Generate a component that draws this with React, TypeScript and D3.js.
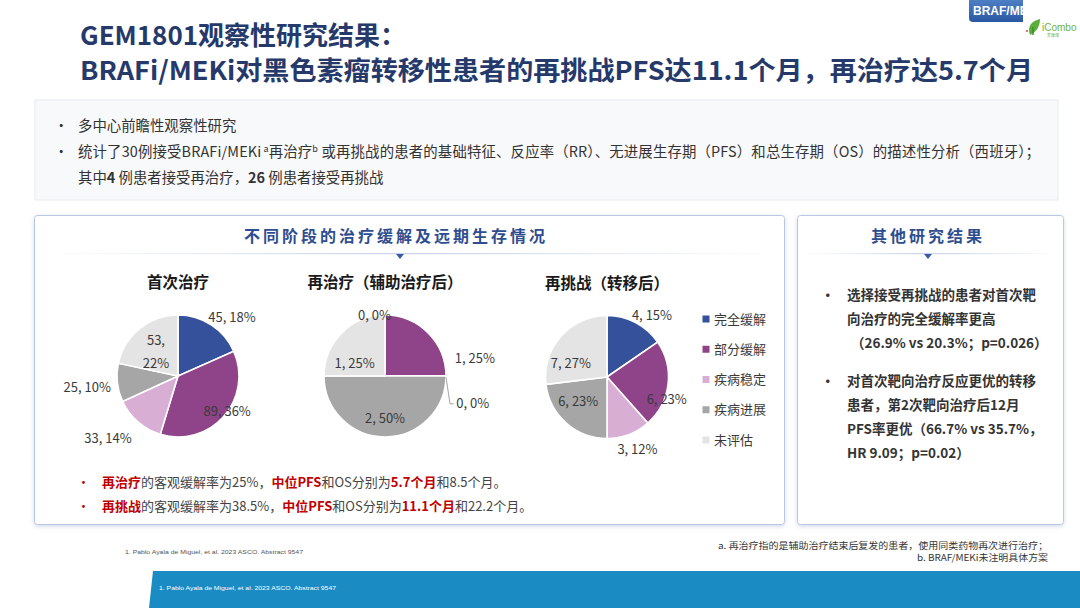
import React from 'react';
import * as d3 from 'd3';

// ---------- data ----------
const categories = ['完全缓解', '部分缓解', '疾病稳定', '疾病进展', '未评估'];
const sliceColors = ['#35519b', '#8f4389', '#d9aed4', '#a6a6a6', '#e4e4e4'];
const pieTitles = ['首次治疗', '再治疗（辅助治疗后）', '再挑战（转移后）'];
const firstCounts = [45, 89, 33, 25, 53];
const firstPcts = [18, 36, 14, 10, 22];
const retreatCounts = [0, 1, 0, 2, 1];
const retreatPcts = [0, 25, 0, 50, 25];
const rechalCounts = [4, 6, 3, 6, 7];
const rechalPcts = [15, 23, 12, 23, 27];

// ---------- label layout (radial factor, angle nudge in degrees) ----------
const firstLabelK = [1.31, 0.99, 1.54, 1.5, 0.53];
const firstLabelDa = [9.4, -6, 7, -1, -4];
const retreatLabelK = [1.0, 1.5, 1.51, 0.69, 0.54];
const retreatLabelDa = [-10, 34, 17.6, 0, -22];
const rechalLabelK = [1.245, 1.04, 1.28, 0.61, 0.63];
const rechalLabelDa = [8.3, 14, -2, 8.5, -20.5];

const F = "'Noto Sans CJK SC','Noto Sans',sans-serif";
const NAVY = '#26396b';
const RED = '#c00000';
const TXT = '#3a3a3a';

type PieProps = {
  cx: number; cy: number; r: number; title: string;
  counts: number[]; pcts: number[]; ks: number[]; das: number[];
  leaderIdx?: number; wrapIdx?: number;
};

function Pie({ cx, cy, r, title, counts, pcts, ks, das, leaderIdx, wrapIdx }: PieProps) {
  const pie = d3.pie<number>().sort(null).value((d) => d);
  const arcs = pie(counts);
  const arc = d3.arc<d3.PieArcDatum<number>>().innerRadius(0).outerRadius(r);
  return (
    <g>
      <text x={cx} y={cy - 88} textAnchor="middle" fontFamily={F} fontWeight={700} fontSize={15.5} fill="#1a1a1a">
        {title}
      </text>
      <g transform={`translate(${cx},${cy})`}>
        {arcs.map((a, i) => (
          <path key={i} d={arc(a) || ''} fill={sliceColors[i]} stroke="#fff" strokeWidth={1.6} />
        ))}
      </g>
      {arcs.map((a, i) => {
        const ang = (a.startAngle + a.endAngle) / 2 + (das[i] * Math.PI) / 180;
        const dist = ks[i] * r;
        const x = cx + dist * Math.sin(ang);
        const y = cy - dist * Math.cos(ang);
        const label = `${counts[i]}, ${pcts[i]}%`;
        if (i === wrapIdx) {
          return (
            <text key={i} x={x} y={y} textAnchor="middle" fontFamily={F} fontSize={13} fill={TXT}>
              <tspan x={x} dy={-7}>{`${counts[i]},`}</tspan>
              <tspan x={x} dy={23}>{`${pcts[i]}%`}</tspan>
            </text>
          );
        }
        if (i === leaderIdx) {
          const ex = cx + r * Math.sin(a.startAngle);
          const ey = cy - r * Math.cos(a.startAngle);
          const tw = 36;
          return (
            <g key={i}>
              <path d={`M${ex},${ey + 1}L${ex + 4},${y}L${x - tw / 2 - 1},${y}`} fill="none" stroke="#a6a6a6" strokeWidth={1} />
              <text x={x} y={y} dy="0.35em" textAnchor="middle" fontFamily={F} fontSize={13} fill={TXT}>{label}</text>
            </g>
          );
        }
        return (
          <text key={i} x={x} y={y} dy="0.35em" textAnchor="middle" fontFamily={F} fontSize={13} fill={TXT}>{label}</text>
        );
      })}
    </g>
  );
}

export default function App() {
  const legendY = d3.scalePoint<string>().domain(categories).range([319, 440]);
  return (
    <svg width={1080} height={608} viewBox="0 0 1080 608"
      style={{ position: 'absolute', left: 0, top: 0, background: '#fff' }}>
      <defs>
        <linearGradient id="tabG" x1="0" y1="0" x2="0" y2="1">
          <stop offset="0" stopColor="#4d7fc4" />
          <stop offset="1" stopColor="#2b57a2" />
        </linearGradient>
        <linearGradient id="sepG" x1="0" y1="0" x2="1" y2="0">
          <stop offset="0" stopColor="#c6d3ec" stopOpacity="0" />
          <stop offset="0.5" stopColor="#c6d3ec" />
          <stop offset="1" stopColor="#c6d3ec" stopOpacity="0" />
        </linearGradient>
        <linearGradient id="topEdge" x1="0" y1="0" x2="1" y2="0">
          <stop offset="0" stopColor="#8e9fc4" />
          <stop offset="0.25" stopColor="#dfe5f0" />
          <stop offset="1" stopColor="#eef1f6" />
        </linearGradient>
        <linearGradient id="leftEdge" x1="0" y1="0" x2="0" y2="1">
          <stop offset="0" stopColor="#8e9fc4" />
          <stop offset="1" stopColor="#e2e7f0" />
        </linearGradient>
        <filter id="sh" x="-5%" y="-5%" width="110%" height="115%">
          <feDropShadow dx="0" dy="1.5" stdDeviation="2" floodColor="#7f93bd" floodOpacity="0.35" />
        </filter>
      </defs>

      {/* top-right tab and logo */}
      <path d="M969,0H1040V18Q1040,22 1036,22H973Q969,22 969,18Z" fill="url(#tabG)" />
      <text x={973} y={15} fontFamily="'Liberation Sans',Arial,sans-serif" fontWeight={700} fontSize={12} fill="#fff">BRAF/MEK</text>
      <rect x={1023} y={0} width={57} height={40} fill="#fff" />
      <path d="M1030,35 C1027,27 1031,21 1040,19 C1040,27 1036,32 1030,35Z" fill="#5aae3c" />
      <path d="M1033,35 L1033,27" stroke="#3d8c2a" strokeWidth={1.5} />
      <circle cx={1027} cy={31} r={0.9} fill="#e03030" />
      <text x={1042} y={31} fontFamily="'Liberation Sans',Arial,sans-serif" fontSize={10} fill="#6bb344">iCombo</text>
      <text x={1047} y={37} fontFamily={F} fontSize={4} fill="#6bb344">爱康博</text>

      {/* title */}
      <text x={80} y={45} fontFamily={F} fontWeight={700} fontSize={26} fill={NAVY} textLength={326} lengthAdjust="spacingAndGlyphs">GEM1801观察性研究结果：</text>
      <text x={80} y={80} fontFamily={F} fontWeight={700} fontSize={26} fill={NAVY} textLength={953} lengthAdjust="spacingAndGlyphs">
        BRAFi/MEKi对黑色素瘤转移性患者的再挑战PFS达11.1个月，再治疗达5.7个月
      </text>

      {/* intro box */}
      <rect x={35} y={100} width={1023} height={100} fill="#f8f9fb" stroke="#e6eaf1" strokeWidth={1} />
      <line x1={35} y1={100} x2={1058} y2={100} stroke="url(#topEdge)" strokeWidth={1.5} />
      <line x1={35} y1={100} x2={35} y2={200} stroke="url(#leftEdge)" strokeWidth={1.5} />
      <g fontFamily={F} fontSize={14.4} fill="#333">
        <text x={54} y={131}>•</text>
        <text x={78} y={131}>多中心前瞻性观察性研究</text>
        <text x={54} y={157}>•</text>
        <text x={78} y={157} textLength={962} lengthAdjust="spacing">
          统计了30例接受BRAFi/MEKi
          <tspan dy={-5} fontSize={9}> a</tspan>
          <tspan dy={5}>再治疗</tspan>
          <tspan dy={-5} fontSize={9}>b</tspan>
          <tspan dy={5}> 或再挑战的患者的基础特征、反应率（RR）、无进展生存期（PFS）和总生存期（OS）的描述性分析（西班牙）；</tspan>
        </text>
        <text x={78} y={183}>
          其中<tspan fontWeight={700}>4</tspan> 例患者接受再治疗，<tspan fontWeight={700}>26</tspan> 例患者接受再挑战
        </text>
      </g>

      {/* left panel */}
      <rect x={34.5} y={215.5} width={750} height={309} rx={3} fill="#fff" stroke="#b9c7e6" strokeWidth={1} filter="url(#sh)" />
      <text x={396} y={242} textAnchor="middle" fontFamily={F} fontWeight={700} fontSize={16} letterSpacing={3} fill="#2f4e8f">
        不同阶段的治疗缓解及远期生存情况
      </text>
      <rect x={44} y={253} width={730} height={1.2} fill="url(#sepG)" />
      <path d="M396,254L404,254L400,259Z" fill="#3b5ba5" />

      <Pie cx={178} cy={376} r={61} title={pieTitles[0]} counts={firstCounts} pcts={firstPcts}
        ks={firstLabelK} das={firstLabelDa} wrapIdx={4} />
      <Pie cx={385} cy={376} r={61} title={pieTitles[1]} counts={retreatCounts} pcts={retreatPcts}
        ks={retreatLabelK} das={retreatLabelDa} leaderIdx={2} />
      <Pie cx={607} cy={377} r={61.5} title={pieTitles[2]} counts={rechalCounts} pcts={rechalPcts}
        ks={rechalLabelK} das={rechalLabelDa} />

      {/* legend */}
      {categories.map((c, i) => (
        <g key={c}>
          <rect x={702.5} y={(legendY(c) as number) - 3.5} width={7} height={7} fill={sliceColors[i]} />
          <text x={714} y={legendY(c) as number} dy="0.35em" fontFamily={F} fontSize={13} fill={TXT}>{c}</text>
        </g>
      ))}

      {/* red bullets */}
      <g fontFamily={F} fontSize={13}>
        <text x={77} y={487} fill={RED}>•</text>
        <text x={102} y={487} fill="#444">
          <tspan fill={RED} fontWeight={700}>再治疗</tspan>的客观缓解率为25%，<tspan fill={RED} fontWeight={700}>中位PFS</tspan>和OS分别为<tspan fill={RED} fontWeight={700}>5.7个月</tspan>和8.5个月。
        </text>
        <text x={77} y={511} fill={RED}>•</text>
        <text x={102} y={511} fill="#444">
          <tspan fill={RED} fontWeight={700}>再挑战</tspan>的客观缓解率为38.5%，<tspan fill={RED} fontWeight={700}>中位PFS</tspan>和OS分别为<tspan fill={RED} fontWeight={700}>11.1个月</tspan>和22.2个月。
        </text>
      </g>

      {/* right panel */}
      <rect x={797.5} y={215.5} width={266} height={309} rx={3} fill="#fff" stroke="#b9c7e6" strokeWidth={1} filter="url(#sh)" />
      <text x={928} y={242} textAnchor="middle" fontFamily={F} fontWeight={700} fontSize={16} letterSpacing={3} fill="#2f4e8f">
        其他研究结果
      </text>
      <rect x={805} y={253} width={250} height={1.2} fill="url(#sepG)" />
      <path d="M924,254L932,254L928,259Z" fill="#3b5ba5" />
      <g fontFamily={F} fontSize={13.5} fontWeight={700} fill="#333">
        <text x={821} y={300}>•</text>
        <text x={847} y={300}>选择接受再挑战的患者对首次靶</text>
        <text x={847} y={324}>向治疗的完全缓解率更高</text>
        <text x={851} y={348}>（26.9% vs 20.3%；p=0.026）</text>
        <text x={821} y={386}>•</text>
        <text x={847} y={386}>对首次靶向治疗反应更优的转移</text>
        <text x={847} y={410}>患者，第2次靶向治疗后12月</text>
        <text x={847} y={434}>PFS率更优（66.7% vs 35.7%，</text>
        <text x={847} y={458}>HR 9.09；p=0.02）</text>
      </g>

      {/* footnotes */}
      <text x={125} y={554} fontFamily="'Liberation Sans',Arial,sans-serif" fontSize={6} fill="#555" textLength={178} lengthAdjust="spacingAndGlyphs">
        1. Pablo Ayala de Miguel, et al. 2023 ASCO. Abstract 9547
      </text>
      <text x={1048} y={549} textAnchor="end" fontFamily={F} fontSize={9} fill="#333" textLength={330} lengthAdjust="spacingAndGlyphs">
        a. 再治疗指的是辅助治疗结束后复发的患者，使用同类药物再次进行治疗；
      </text>
      <text x={1048} y={561} textAnchor="end" fontFamily={F} fontSize={9} fill="#333" textLength={131} lengthAdjust="spacingAndGlyphs">
        b. BRAF/MEKi未注明具体方案
      </text>

      {/* bottom bar */}
      <path d="M153,571H1080V608H149Z" fill="#1b8bc4" />
      <text x={159} y={590} fontFamily="'Liberation Sans',Arial,sans-serif" fontSize={6} fill="#fff" textLength={177} lengthAdjust="spacingAndGlyphs">
        1. Pablo Ayala de Miguel, et al. 2023 ASCO. Abstract 9547
      </text>
    </svg>
  );
}
